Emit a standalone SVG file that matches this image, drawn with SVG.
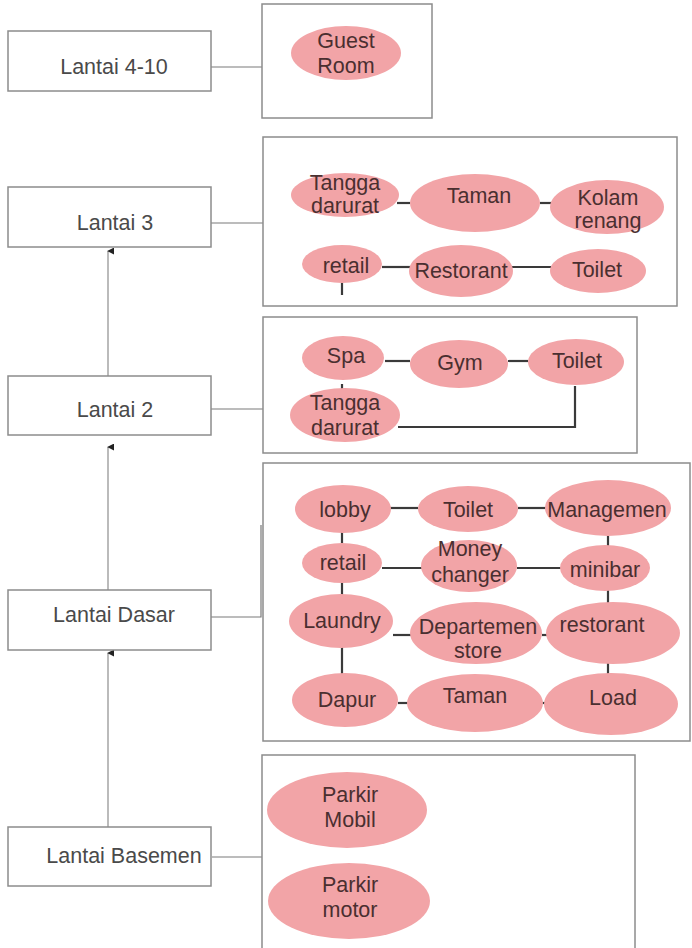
<svg xmlns="http://www.w3.org/2000/svg" width="692" height="948" viewBox="0 0 692 948">
<defs>
<marker id="ah" viewBox="0 0 8 8" refX="4" refY="1" markerWidth="7" markerHeight="7" orient="auto-start-reverse" markerUnits="userSpaceOnUse">
<path d="M0,8 L4,0 L8,8 Z" fill="#222"/>
</marker>
</defs>
<style>
.box{fill:#fff;stroke:#8c8c8c;stroke-width:1.5}
.panel{fill:#fff;stroke:#8c8c8c;stroke-width:1.5}
.lbl{font-family:"Liberation Sans",Arial,sans-serif;font-size:21.5px;fill:#4a4a4a;text-anchor:middle}
.el{fill:#f2a4a7}
.et{font-family:"Liberation Sans",Arial,sans-serif;font-size:21.5px;fill:#4a2f30;text-anchor:middle}
.lk{stroke:#7a7a7a;stroke-width:1.2;fill:none}
.up{stroke:#bbb;stroke-width:2;fill:none}
.ic{stroke:#3a3a3a;stroke-width:2.2;fill:none}
</style>
<rect width="692" height="948" fill="#fff"/>

<g id="connectors">
<line class="up" x1="108" y1="376" x2="108" y2="251" marker-end="url(#ah)"/>
<line class="up" x1="108" y1="590" x2="108" y2="447" marker-end="url(#ah)"/>
<line class="up" x1="108" y1="827" x2="108" y2="653" marker-end="url(#ah)"/>
<line class="lk" x1="207" y1="67" x2="262" y2="67"/>
<line class="lk" x1="207" y1="223" x2="263" y2="223"/>
<line class="lk" x1="207" y1="409" x2="263" y2="409"/>
<polyline class="lk" points="207,617 261,617 261,525"/>
<line class="lk" x1="212" y1="857" x2="267" y2="857"/>
<line class="lk" x1="267" y1="812" x2="267" y2="902"/>
</g>

<g id="lantai-4-10"><rect class="box" x="8" y="31" width="203" height="60"/><text class="lbl" x="114" y="74">Lantai 4-10</text></g>
<g id="lantai-3"><rect class="box" x="8" y="187" width="203" height="60"/><text class="lbl" x="115" y="230">Lantai 3</text></g>
<g id="lantai-2"><rect class="box" x="8" y="376" width="203" height="59"/><text class="lbl" x="115" y="417">Lantai 2</text></g>
<g id="lantai-dasar"><rect class="box" x="8" y="590" width="203" height="60"/><text class="lbl" x="114" y="622">Lantai Dasar</text></g>
<g id="lantai-basemen"><rect class="box" x="8" y="827" width="203" height="59"/><text class="lbl" x="124" y="863">Lantai Basemen</text></g>

<g id="panel-4-10">
<rect class="panel" x="262" y="4" width="170" height="114"/>
<ellipse class="el" cx="346" cy="53" rx="55" ry="27"/>
<text class="et" x="346" y="48">Guest</text><text class="et" x="346" y="73">Room</text>
</g>

<g id="panel-3">
<rect class="panel" x="263" y="137" width="414" height="169"/>
<g class="ic">
<line x1="397" y1="203" x2="410" y2="203"/>
<line x1="540" y1="203" x2="551" y2="203"/>
<line x1="382" y1="267" x2="410" y2="267"/>
<line x1="512" y1="267" x2="551" y2="267"/>
<line x1="342" y1="283" x2="342" y2="295"/>
</g>
<ellipse class="el" cx="345" cy="195" rx="54" ry="22"/>
<ellipse class="el" cx="475" cy="203" rx="65" ry="29"/>
<ellipse class="el" cx="607" cy="207" rx="57" ry="27"/>
<ellipse class="el" cx="342" cy="264" rx="40" ry="19"/>
<ellipse class="el" cx="461" cy="271" rx="52" ry="26"/>
<ellipse class="el" cx="598" cy="271" rx="48" ry="22"/>
<text class="et" x="345" y="190">Tangga</text><text class="et" x="345" y="213">darurat</text>
<text class="et" x="479" y="203">Taman</text>
<text class="et" x="608" y="205">Kolam</text><text class="et" x="608" y="228">renang</text>
<text class="et" x="346" y="273">retail</text>
<text class="et" x="461" y="278">Restorant</text>
<text class="et" x="597" y="277">Toilet</text>
</g>

<g id="panel-2">
<rect class="panel" x="263" y="317" width="374" height="136"/>
<g class="ic">
<line x1="385" y1="361" x2="410" y2="361"/>
<line x1="508" y1="361" x2="528" y2="361"/>
<line x1="342" y1="384" x2="342" y2="390"/>
<polyline points="398,427 575,427 575,386"/>
</g>
<ellipse class="el" cx="343" cy="358" rx="41" ry="22"/>
<ellipse class="el" cx="459" cy="364" rx="49" ry="24"/>
<ellipse class="el" cx="576" cy="362" rx="48" ry="23"/>
<ellipse class="el" cx="345" cy="415" rx="55" ry="27"/>
<text class="et" x="346" y="363">Spa</text>
<text class="et" x="460" y="370">Gym</text>
<text class="et" x="577" y="368">Toilet</text>
<text class="et" x="345" y="410">Tangga</text><text class="et" x="345" y="435">darurat</text>
</g>

<g id="panel-dasar">
<rect class="panel" x="263" y="463" width="427" height="278"/>
<g class="ic">
<line x1="390" y1="508" x2="418" y2="508"/>
<line x1="518" y1="508" x2="546" y2="508"/>
<line x1="382" y1="568" x2="422" y2="568"/>
<line x1="517" y1="568" x2="561" y2="568"/>
<line x1="393" y1="635" x2="411" y2="635"/>
<line x1="542" y1="635" x2="548" y2="635"/>
<line x1="398" y1="703" x2="408" y2="703"/>
<line x1="542" y1="703" x2="546" y2="703"/>
<line x1="342" y1="532" x2="342" y2="544"/>
<line x1="342" y1="582" x2="342" y2="596"/>
<line x1="342" y1="647" x2="342" y2="674"/>
<line x1="608" y1="536" x2="608" y2="546"/>
<line x1="608" y1="590" x2="608" y2="603"/>
<line x1="608" y1="662" x2="608" y2="674"/>
</g>
<ellipse class="el" cx="343" cy="509" rx="48" ry="24"/>
<ellipse class="el" cx="468" cy="509" rx="50" ry="23"/>
<ellipse class="el" cx="608" cy="508" rx="63" ry="28"/>
<ellipse class="el" cx="342" cy="563" rx="40" ry="20"/>
<ellipse class="el" cx="469" cy="566" rx="48" ry="26"/>
<ellipse class="el" cx="605" cy="568" rx="45" ry="23"/>
<ellipse class="el" cx="341" cy="621" rx="52" ry="27"/>
<ellipse class="el" cx="476" cy="633" rx="66" ry="31"/>
<ellipse class="el" cx="613" cy="633" rx="67" ry="31"/>
<ellipse class="el" cx="345" cy="700" rx="53" ry="27"/>
<ellipse class="el" cx="475" cy="703" rx="68" ry="29"/>
<ellipse class="el" cx="611" cy="704" rx="67" ry="31"/>
<text class="et" x="345" y="517">lobby</text>
<text class="et" x="468" y="517">Toilet</text>
<text class="et" x="607" y="517">Managemen</text>
<text class="et" x="343" y="570">retail</text>
<text class="et" x="470" y="556">Money</text><text class="et" x="470" y="582">changer</text>
<text class="et" x="605" y="577">minibar</text>
<text class="et" x="342" y="628">Laundry</text>
<text class="et" x="478" y="634">Departemen</text><text class="et" x="478" y="658">store</text>
<text class="et" x="602" y="632">restorant</text>
<text class="et" x="347" y="707">Dapur</text>
<text class="et" x="475" y="703">Taman</text>
<text class="et" x="613" y="705">Load</text>
</g>

<g id="panel-basemen">
<rect class="panel" x="262" y="755" width="373" height="210"/>
<ellipse class="el" cx="347" cy="810" rx="80" ry="38"/>
<ellipse class="el" cx="349" cy="901" rx="81" ry="38"/>
<text class="et" x="350" y="802">Parkir</text><text class="et" x="350" y="827">Mobil</text>
<text class="et" x="350" y="892">Parkir</text><text class="et" x="350" y="917">motor</text>
</g>
</svg>
